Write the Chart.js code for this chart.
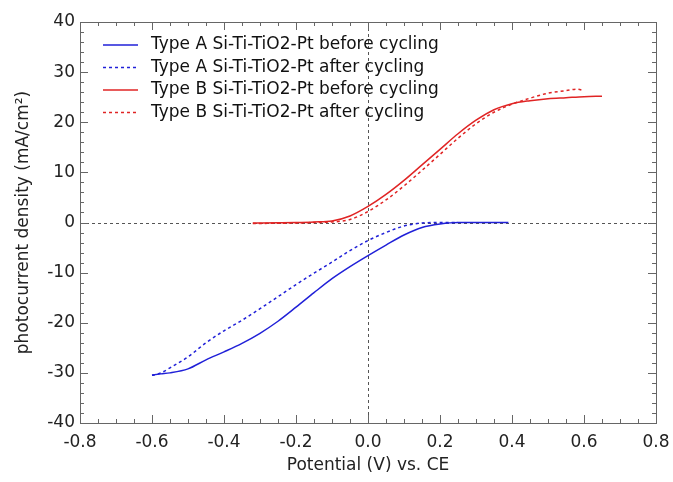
<!DOCTYPE html>
<html>
<head>
<meta charset="utf-8">
<script src="https://cdn.jsdelivr.net/npm/chart.js@4.4.1/dist/chart.umd.min.js"></script>
<style>
  html, body { margin: 0; padding: 0; background: #fff; }
  #wrap { width: 673px; height: 482px; }
</style>
</head>
<body>
<div id="wrap"><canvas id="grafico"></canvas></div>
<script>
// curve data, potential (V) vs CE and photocurrent density (mA/cm2)
const POT_A_BEFORE = [-0.6, -0.575, -0.55, -0.5, -0.45, -0.4, -0.35, -0.3, -0.25, -0.2, -0.15, -0.1, -0.05, 0, 0.05, 0.1, 0.15, 0.2, 0.25, 0.3, 0.35, 0.39];
const J_A_BEFORE   = [-30.4, -30.2, -30.0, -29.2, -27.4, -25.8, -24.1, -22.1, -19.7, -16.9, -14.0, -11.2, -8.8, -6.6, -4.5, -2.5, -1.0, -0.3, 0, 0, 0, 0];

const POT_A_AFTER = [-0.6, -0.575, -0.55, -0.5, -0.45, -0.4, -0.35, -0.3, -0.25, -0.2, -0.15, -0.1, -0.05, 0, 0.05, 0.1, 0.15, 0.2, 0.25];
const J_A_AFTER   = [-30.5, -30.0, -29.0, -26.8, -24.0, -21.6, -19.5, -17.2, -14.8, -12.4, -10.1, -7.9, -5.6, -3.6, -2.0, -0.7, -0.1, 0, 0];

const POT_B_BEFORE = [-0.32, -0.25, -0.2, -0.15, -0.1, -0.05, 0, 0.05, 0.1, 0.15, 0.2, 0.25, 0.3, 0.35, 0.4, 0.45, 0.5, 0.55, 0.6, 0.65];
const J_B_BEFORE   = [-0.1, -0.05, 0, 0.1, 0.3, 1.3, 3.2, 5.6, 8.4, 11.5, 14.6, 17.7, 20.4, 22.5, 23.7, 24.3, 24.7, 24.9, 25.1, 25.2];

const POT_B_AFTER = [-0.32, -0.25, -0.2, -0.15, -0.1, -0.05, 0, 0.05, 0.1, 0.15, 0.2, 0.25, 0.3, 0.35, 0.4, 0.45, 0.5, 0.55, 0.58, 0.6];
const J_B_AFTER   = [-0.2, -0.15, -0.1, 0, 0.1, 0.6, 2.2, 4.5, 7.3, 10.4, 13.6, 16.8, 19.7, 22.0, 23.6, 24.8, 25.8, 26.3, 26.6, 26.3];

const ETICHETTE = [
  "Type A Si-Ti-TiO2-Pt before cycling",
  "Type A Si-Ti-TiO2-Pt after cycling",
  "Type B Si-Ti-TiO2-Pt before cycling",
  "Type B Si-Ti-TiO2-Pt after cycling"
];

const BLU = "#2020d8";
const ROSSO = "#e02424";
const FONT = "'DejaVu Sans', sans-serif";

function punti(xs, ys) {
  return xs.map((x, i) => ({ x: x, y: ys[i] }));
}

function serie(label, xs, ys, colore, tratteggio) {
  return {
    label: label,
    data: punti(xs, ys),
    borderColor: colore,
    backgroundColor: colore,
    borderWidth: 1.5,
    borderDash: tratteggio ? [3, 3] : [],
    pointRadius: 0,
    cubicInterpolationMode: "monotone",
    fill: false
  };
}

// box, inward ticks, dashed zero lines
const cornice = {
  id: "cornice",
  beforeDatasetsDraw(chart) {
    const { ctx, chartArea: a, scales: { x, y } } = chart;
    ctx.save();
    ctx.strokeStyle = "#555";
    ctx.lineWidth = 1;
    ctx.setLineDash([3, 3]);
    const x0 = Math.round(x.getPixelForValue(0)) + 0.5;
    const y0 = Math.round(y.getPixelForValue(0)) + 0.5;
    ctx.beginPath();
    ctx.moveTo(a.left, y0); ctx.lineTo(a.right, y0);
    ctx.moveTo(x0, a.top); ctx.lineTo(x0, a.bottom);
    ctx.stroke();
    ctx.restore();
  },
  afterDatasetsDraw(chart) {
    const { ctx, chartArea: a, scales: { x, y } } = chart;
    ctx.save();
    ctx.strokeStyle = "#666";
    ctx.lineWidth = 1;
    ctx.beginPath();
    for (let i = 0; i <= 32; i++) {
      const v = -0.8 + i * 0.05;
      const px = Math.round(x.getPixelForValue(v)) + 0.5;
      const len = (i % 4 === 0) ? 8 : 4;
      ctx.moveTo(px, a.bottom); ctx.lineTo(px, a.bottom - len);
      ctx.moveTo(px, a.top); ctx.lineTo(px, a.top + len);
    }
    for (let i = 0; i <= 40; i++) {
      const v = -40 + i * 2;
      const py = Math.round(y.getPixelForValue(v)) + 0.5;
      const len = (i % 5 === 0) ? 8 : 4;
      ctx.moveTo(a.left, py); ctx.lineTo(a.left + len, py);
      ctx.moveTo(a.right, py); ctx.lineTo(a.right - len, py);
    }
    ctx.stroke();
    ctx.strokeRect(Math.round(a.left) + 0.5, Math.round(a.top) + 0.5, Math.round(a.right - a.left), Math.round(a.bottom - a.top));

    // legend inside the plot
    ctx.font = "17px " + FONT;
    ctx.textBaseline = "middle";
    ctx.fillStyle = "#111";
    chart.data.datasets.forEach((ds, i) => {
      const yy = a.top + 23 + i * 22.5;
      ctx.strokeStyle = ds.borderColor;
      ctx.lineWidth = 1.5;
      ctx.setLineDash(ds.borderDash);
      ctx.beginPath();
      ctx.moveTo(a.left + 23, yy); ctx.lineTo(a.left + 58, yy);
      ctx.stroke();
      ctx.setLineDash([]);
      ctx.fillText(ds.label, a.left + 71, yy);
    });
    ctx.restore();
  }
};

let grafico = new Chart("grafico", {
  type: "line",
  data: {
    datasets: [
      serie(ETICHETTE[0], POT_A_BEFORE, J_A_BEFORE, BLU, false),
      serie(ETICHETTE[1], POT_A_AFTER, J_A_AFTER, BLU, true),
      serie(ETICHETTE[2], POT_B_BEFORE, J_B_BEFORE, ROSSO, false),
      serie(ETICHETTE[3], POT_B_AFTER, J_B_AFTER, ROSSO, true)
    ]
  },
  options: {
    responsive: true,
    maintainAspectRatio: false,
    animation: false,
    layout: { padding: { top: 22, right: 0, left: 0, bottom: 0 } },
    plugins: { legend: { display: false }, tooltip: { enabled: false } },
    scales: {
      x: {
        type: "linear",
        min: -0.8,
        max: 0.8,
        afterFit(s) { s.height = 59; s.paddingRight = 17; s.paddingLeft = 0; },
        ticks: {
          stepSize: 0.2,
          padding: 9,
          color: "#222",
          font: { family: FONT, size: 17 },
          callback: v => v.toFixed(1)
        },
        grid: { display: false, drawTicks: false },
        border: { display: false },
        title: {
          display: true,
          text: "Potential (V) vs. CE",
          color: "#222",
          font: { family: FONT, size: 17 },
          padding: { top: 0, bottom: 6 }
        }
      },
      y: {
        type: "linear",
        min: -40,
        max: 40,
        afterFit(s) { s.width = 80; s.paddingTop = 0; s.paddingBottom = 0; },
        ticks: {
          stepSize: 10,
          padding: 5,
          color: "#222",
          font: { family: FONT, size: 17 }
        },
        grid: { display: false, drawTicks: false },
        border: { display: false },
        title: {
          display: true,
          text: "photocurrent density (mA/cm²)",
          color: "#222",
          font: { family: FONT, size: 17 },
          padding: { top: 13, bottom: 0 }
        }
      }
    }
  },
  plugins: [cornice]
});
</script>
</body>
</html>
